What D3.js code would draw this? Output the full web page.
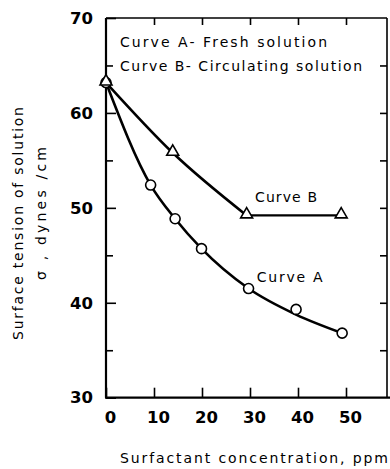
<!DOCTYPE html>
<html><head><meta charset="utf-8">
<script src="https://cdn.jsdelivr.net/npm/d3@7/dist/d3.min.js"></script>
<style>
html,body{margin:0;padding:0;background:#fff;}
svg{display:block;}
</style></head>
<body>
<svg id="chart" width="390" height="469"></svg>
<script>
// ---- data ----
const curveA_x = [0, 9.3, 14.4, 19.9, 29.7, 39.6, 49.2];
const curveA_y = [63.2, 52.4, 48.85, 45.7, 41.5, 39.3, 36.8];
// smooth line drawn for curve A (fitted line)
const curveA_line_x = [0, 9.3, 14.4, 19.9, 29.7, 39.6, 49.2];
const curveA_line_y = [63.2, 52.4, 48.85, 45.7, 41.5, 38.75, 36.8];
const curveB_x = [0, 13.9, 29.3, 49.0];
const curveB_y = [63.2, 55.8, 49.2, 49.2];
const xTicks = [0, 10, 20, 30, 40, 50];
const xTopTicks = [10, 20, 30, 40, 50];
const yMajorTicks = [30, 40, 50, 60, 70];
const yMinorTicks = [35, 45, 55, 65];
const legendLines = ["Curve A- Fresh solution", "Curve B- Circulating solution"];
const curveLabels = ["Curve A", "Curve B"];
const xTitle = "Surfactant concentration,  ppm";
const yTitle1 = "Surface tension of solution";
const yTitle2 = "\u03C3 ,   dynes /cm";

// ---- layout ----
const L = 106, R = 387, T = 18, B = 397.7;
const svg = d3.select("#chart");
const x = d3.scaleLinear().domain([0, 50]).range([L, 346]);
const y = d3.scaleLinear().domain([30, 70]).range([B, T]);
const txtFont = "DejaVu Sans";

// ticks via axes
function styleAxis(g, showText) {
  g.select(".domain").remove();
  g.selectAll(".tick line").attr("stroke", "#000").attr("stroke-width", 1.6);
  if (!showText) g.selectAll(".tick text").remove();
  else g.selectAll(".tick text").attr("fill", "#000")
        .style("font-family", txtFont).style("font-weight", "bold").style("font-size", "16.5px");
}
svg.append("g").attr("transform", `translate(${L},0)`)
  .call(d3.axisLeft(y).tickValues(yMajorTicks).tickSize(-10).tickPadding(13).tickFormat(d3.format("d")))
  .call(g => styleAxis(g, true));
svg.append("g").attr("transform", `translate(${L},0)`)
  .call(d3.axisLeft(y).tickValues(yMinorTicks).tickSize(-7))
  .call(g => styleAxis(g, false));
svg.append("g").attr("transform", `translate(0,${B})`)
  .call(d3.axisBottom(x).tickValues(xTicks).tickSize(-10).tickPadding(14).tickFormat(d3.format("d")))
  .call(g => { styleAxis(g, true); g.selectAll(".tick text").attr("dx", 4); });
svg.append("g").attr("transform", `translate(0,${T})`)
  .call(d3.axisTop(x).tickValues(xTopTicks).tickSize(-7))
  .call(g => styleAxis(g, false));
svg.append("g").attr("transform", `translate(${R},0)`)
  .call(d3.axisRight(y).tickValues(yMinorTicks.concat([40, 50, 60])).tickSize(-7))
  .call(g => styleAxis(g, false));

// frame
svg.append("line").attr("x1", L).attr("x2", L).attr("y1", T).attr("y2", B)
  .attr("stroke", "#000").attr("stroke-width", 2.2);
svg.append("line").attr("x1", L - 1).attr("x2", 390).attr("y1", B).attr("y2", B)
  .attr("stroke", "#000").attr("stroke-width", 2.2);
svg.append("line").attr("x1", L).attr("x2", R).attr("y1", T).attr("y2", T)
  .attr("stroke", "#000").attr("stroke-width", 1.6);
svg.append("line").attr("x1", R).attr("x2", R).attr("y1", T).attr("y2", B)
  .attr("stroke", "#000").attr("stroke-width", 1.6);

// curves
const lineGen = d3.line().x(d => x(d[0])).y(d => y(d[1])).curve(d3.curveMonotoneX);
const aLine = curveA_line_x.map((v, i) => [v, curveA_line_y[i]]);
const bPts = curveB_x.map((v, i) => [v, curveB_y[i]]);
svg.append("path").attr("d", lineGen(aLine)).attr("fill", "none")
  .attr("stroke", "#000").attr("stroke-width", 2.6);
svg.append("path").attr("d", lineGen(bPts.slice(0, 3))).attr("fill", "none")
  .attr("stroke", "#000").attr("stroke-width", 2.6);
svg.append("path").attr("d", d3.line().x(d => x(d[0])).y(d => y(d[1]))(bPts.slice(2))).attr("fill", "none")
  .attr("stroke", "#000").attr("stroke-width", 2.2);

// markers
svg.append("g").selectAll("circle").data(curveA_x.map((v, i) => [v, curveA_y[i]])).join("circle")
  .attr("cx", d => x(d[0])).attr("cy", d => y(d[1])).attr("r", 5)
  .attr("fill", "#fff").attr("stroke", "#000").attr("stroke-width", 1.6);
const tri = d3.symbol().type(d3.symbolTriangle).size(62);
svg.append("g").selectAll("path").data(bPts).join("path")
  .attr("d", tri).attr("transform", d => `translate(${x(d[0])},${y(d[1]) - 1})`)
  .attr("fill", "#fff").attr("stroke", "#000").attr("stroke-width", 1.6);

// legend text
const legendY = [47, 70.5];
const legendW = [207, 242];
legendLines.forEach((t, i) => {
  svg.append("text").attr("x", 120).attr("y", legendY[i]).text(t)
    .attr("textLength", legendW[i]).attr("lengthAdjust", "spacing")
    .style("font-family", txtFont).style("font-size", "14px").attr("fill", "#000");
});
// curve labels
svg.append("text").attr("x", 256.7).attr("y", 282).text(curveLabels[0])
  .attr("textLength", 66).attr("lengthAdjust", "spacing")
  .style("font-family", txtFont).style("font-size", "14px");
svg.append("text").attr("x", 255).attr("y", 201.7).text(curveLabels[1])
  .attr("textLength", 62).attr("lengthAdjust", "spacing")
  .style("font-family", txtFont).style("font-size", "14px");

// axis titles
svg.append("text").attr("x", 120).attr("y", 462.5).text(xTitle)
  .attr("textLength", 268).attr("lengthAdjust", "spacing")
  .style("font-family", txtFont).style("font-size", "14px");
svg.append("text").attr("transform", "translate(23,340) rotate(-90)").text(yTitle1)
  .attr("textLength", 233).attr("lengthAdjust", "spacing")
  .style("font-family", txtFont).style("font-size", "14px");
svg.append("text").attr("transform", "translate(46,280) rotate(-90)").text(yTitle2)
  .attr("textLength", 133).attr("lengthAdjust", "spacing")
  .style("font-family", txtFont).style("font-size", "14px");
</script>
</body></html>
